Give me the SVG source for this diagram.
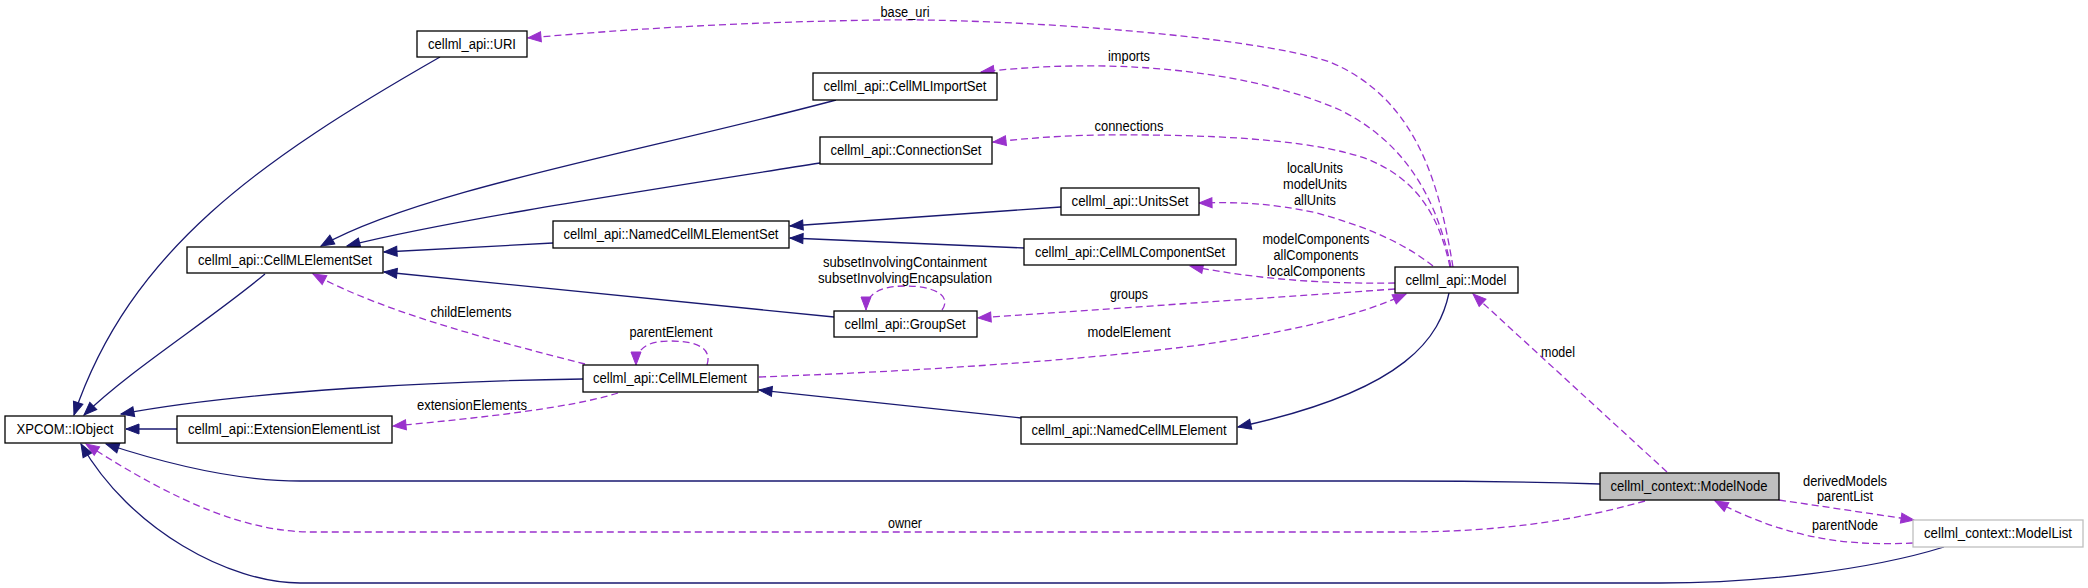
<svg xmlns="http://www.w3.org/2000/svg" width="2088" height="588" viewBox="0 0 2088 588">
<style>
.n rect{fill:#fff;stroke:#000;stroke-width:1.3}
.t{font-family:"Liberation Sans",Arial,Helvetica,sans-serif;font-size:14px;fill:#000}
.e{fill:none;stroke:#191970;stroke-width:1.3}
.u{fill:none;stroke:#9a32cd;stroke-width:1.3;stroke-dasharray:7,4}
</style>
<defs>
<marker id="ai" markerUnits="userSpaceOnUse" markerWidth="14" markerHeight="11" refX="13" refY="5" orient="auto" overflow="visible">
<path d="M0,0 L13,5 L0,10 z" fill="#191970" stroke="#191970" stroke-width="1"/>
</marker>
<marker id="au" markerUnits="userSpaceOnUse" markerWidth="14" markerHeight="11" refX="13" refY="5" orient="auto" overflow="visible">
<path d="M0,0 L13,5 L0,10 z" fill="#9a32cd" stroke="#9a32cd" stroke-width="1"/>
</marker>
</defs>
<rect width="2088" height="588" fill="#fff"/>
<g id="connectors">
<path class="e" marker-end="url(#ai)" d="M440,57 C260,160 130,250 74,415"/>
<path class="e" marker-end="url(#ai)" d="M265,274 C210,320 130,370 84,415"/>
<path class="e" marker-end="url(#ai)" d="M836,100 C650,150 420,190 321,246"/>
<path class="e" marker-end="url(#ai)" d="M820,163 C650,190 450,220 347,246"/>
<path class="e" marker-end="url(#ai)" d="M553,243 L384,252"/>
<path class="e" marker-end="url(#ai)" d="M834,317 L384,272"/>
<path class="e" marker-end="url(#ai)" d="M1061,207 L790,226"/>
<path class="e" marker-end="url(#ai)" d="M1024,248 L790,238"/>
<path class="e" marker-end="url(#ai)" d="M583,379 C450,381 250,390 121,414"/>
<path class="e" marker-end="url(#ai)" d="M177,429 L126,429"/>
<path class="e" marker-end="url(#ai)" d="M1021,418 L759,390"/>
<path class="e" marker-end="url(#ai)" d="M1449,293 C1440,335 1410,390 1238,427"/>
<path class="e" marker-end="url(#ai)" d="M1600,484 C1500,481 1450,481 1400,481 L300,481 C240,481 170,465 106,444"/>
<path class="e" marker-end="url(#ai)" d="M1944,547 C1870,570 1760,583 1660,583 L300,583 C230,583 130,530 81,444"/>
<path class="u" marker-end="url(#au)" d="M1453,267 C1440,190 1420,100 1330,62 C1250,35 1000,18 880,20 C750,22 640,28 528,38"/>
<path class="u" marker-end="url(#au)" d="M1451,267 C1435,190 1400,140 1340,110 C1260,75 1130,55 981,72"/>
<path class="u" marker-end="url(#au)" d="M1450,267 C1440,220 1420,180 1367,159 C1320,142 1240,136 1150,135 C1080,134 1040,137 993,142"/>
<path class="u" marker-end="url(#au)" d="M1433,266 C1400,240 1360,225 1317,213 C1270,203 1240,202 1199,203"/>
<path class="u" marker-end="url(#au)" d="M1395,283 C1330,284 1260,280 1190,266"/>
<path class="u" marker-end="url(#au)" d="M1395,289 L978,318"/>
<path class="u" marker-end="url(#au)" d="M759,377 C950,370 1100,358 1200,345 C1300,330 1360,315 1406,294"/>
<path class="u" marker-end="url(#au)" d="M585,364 C500,342 390,315 313,274"/>
<path class="u" marker-end="url(#au)" d="M618,393 C570,408 480,418 393,426"/>
<path class="u" marker-end="url(#au)" d="M707,365 C712,350 700,341 670,341 C648,341 636,348 636,365"/>
<path class="u" marker-end="url(#au)" d="M942,310 C952,296 935,286 905,286 C880,286 866,294 866,310"/>
<path class="u" marker-end="url(#au)" d="M1667,472 L1473,294"/>
<path class="u" marker-end="url(#au)" d="M1645,501 C1560,525 1480,532 1400,532 L312,532 C250,532 180,505 86,444"/>
<path class="u" marker-end="url(#au)" d="M1779,500 L1914,520"/>
<path class="u" marker-end="url(#au)" d="M1913,543 C1850,546 1790,540 1715,501"/>
<text class="t" x="905" y="17" text-anchor="middle" textLength="49" lengthAdjust="spacingAndGlyphs">base_uri</text>
<text class="t" x="1129" y="61" text-anchor="middle" textLength="42" lengthAdjust="spacingAndGlyphs">imports</text>
<text class="t" x="1129" y="131" text-anchor="middle" textLength="69" lengthAdjust="spacingAndGlyphs">connections</text>
<text class="t" x="1315" y="173" text-anchor="middle" textLength="56" lengthAdjust="spacingAndGlyphs">localUnits</text>
<text class="t" x="1315" y="189" text-anchor="middle" textLength="64" lengthAdjust="spacingAndGlyphs">modelUnits</text>
<text class="t" x="1315" y="205" text-anchor="middle" textLength="42" lengthAdjust="spacingAndGlyphs">allUnits</text>
<text class="t" x="1316" y="244" text-anchor="middle" textLength="107" lengthAdjust="spacingAndGlyphs">modelComponents</text>
<text class="t" x="1316" y="260" text-anchor="middle" textLength="85" lengthAdjust="spacingAndGlyphs">allComponents</text>
<text class="t" x="1316" y="276" text-anchor="middle" textLength="98" lengthAdjust="spacingAndGlyphs">localComponents</text>
<text class="t" x="1129" y="299" text-anchor="middle" textLength="38" lengthAdjust="spacingAndGlyphs">groups</text>
<text class="t" x="1129" y="337" text-anchor="middle" textLength="83" lengthAdjust="spacingAndGlyphs">modelElement</text>
<text class="t" x="905" y="267" text-anchor="middle" textLength="164" lengthAdjust="spacingAndGlyphs">subsetInvolvingContainment</text>
<text class="t" x="905" y="283" text-anchor="middle" textLength="174" lengthAdjust="spacingAndGlyphs">subsetInvolvingEncapsulation</text>
<text class="t" x="671" y="337" text-anchor="middle" textLength="83" lengthAdjust="spacingAndGlyphs">parentElement</text>
<text class="t" x="471" y="317" text-anchor="middle" textLength="81" lengthAdjust="spacingAndGlyphs">childElements</text>
<text class="t" x="472" y="410" text-anchor="middle" textLength="110" lengthAdjust="spacingAndGlyphs">extensionElements</text>
<text class="t" x="905" y="528" text-anchor="middle" textLength="34" lengthAdjust="spacingAndGlyphs">owner</text>
<text class="t" x="1558" y="357" text-anchor="middle" textLength="34" lengthAdjust="spacingAndGlyphs">model</text>
<text class="t" x="1845" y="486" text-anchor="middle" textLength="84" lengthAdjust="spacingAndGlyphs">derivedModels</text>
<text class="t" x="1845" y="501" text-anchor="middle" textLength="56" lengthAdjust="spacingAndGlyphs">parentList</text>
<text class="t" x="1845" y="530" text-anchor="middle" textLength="66" lengthAdjust="spacingAndGlyphs">parentNode</text>
</g>
<g id="n-uri" class="n"><rect x="417" y="31" width="110" height="26"/><text class="t" x="472" y="49" text-anchor="middle" textLength="88" lengthAdjust="spacingAndGlyphs">cellml_api::URI</text></g>
<g id="n-importset" class="n"><rect x="813" y="73" width="184" height="27"/><text class="t" x="905" y="91" text-anchor="middle" textLength="163" lengthAdjust="spacingAndGlyphs">cellml_api::CellMLImportSet</text></g>
<g id="n-connectionset" class="n"><rect x="820" y="137" width="172" height="27"/><text class="t" x="906" y="155" text-anchor="middle" textLength="151" lengthAdjust="spacingAndGlyphs">cellml_api::ConnectionSet</text></g>
<g id="n-unitsset" class="n"><rect x="1061" y="188" width="138" height="27"/><text class="t" x="1130" y="206" text-anchor="middle" textLength="117" lengthAdjust="spacingAndGlyphs">cellml_api::UnitsSet</text></g>
<g id="n-namedelementset" class="n"><rect x="553" y="221" width="236" height="27"/><text class="t" x="671" y="239" text-anchor="middle" textLength="215" lengthAdjust="spacingAndGlyphs">cellml_api::NamedCellMLElementSet</text></g>
<g id="n-componentset" class="n"><rect x="1024" y="239" width="212" height="26"/><text class="t" x="1130" y="257" text-anchor="middle" textLength="190" lengthAdjust="spacingAndGlyphs">cellml_api::CellMLComponentSet</text></g>
<g id="n-elementset" class="n"><rect x="187" y="247" width="196" height="26"/><text class="t" x="285" y="265" text-anchor="middle" textLength="174" lengthAdjust="spacingAndGlyphs">cellml_api::CellMLElementSet</text></g>
<g id="n-model" class="n"><rect x="1395" y="267" width="123" height="26"/><text class="t" x="1456" y="285" text-anchor="middle" textLength="101" lengthAdjust="spacingAndGlyphs">cellml_api::Model</text></g>
<g id="n-groupset" class="n"><rect x="834" y="311" width="143" height="26"/><text class="t" x="905" y="329" text-anchor="middle" textLength="121" lengthAdjust="spacingAndGlyphs">cellml_api::GroupSet</text></g>
<g id="n-element" class="n"><rect x="583" y="365" width="175" height="27"/><text class="t" x="670" y="383" text-anchor="middle" textLength="154" lengthAdjust="spacingAndGlyphs">cellml_api::CellMLElement</text></g>
<g id="n-iobject" class="n"><rect x="5" y="416" width="120" height="27"/><text class="t" x="65" y="434" text-anchor="middle" textLength="97" lengthAdjust="spacingAndGlyphs">XPCOM::IObject</text></g>
<g id="n-extlist" class="n"><rect x="177" y="416" width="215" height="27"/><text class="t" x="284" y="434" text-anchor="middle" textLength="192" lengthAdjust="spacingAndGlyphs">cellml_api::ExtensionElementList</text></g>
<g id="n-namedelement" class="n"><rect x="1021" y="417" width="216" height="27"/><text class="t" x="1129" y="435" text-anchor="middle" textLength="195" lengthAdjust="spacingAndGlyphs">cellml_api::NamedCellMLElement</text></g>
<g id="n-modelnode" class="n"><rect x="1600" y="473" width="179" height="27" style="fill:#bfbfbf"/><text class="t" x="1689" y="491" text-anchor="middle" textLength="157" lengthAdjust="spacingAndGlyphs">cellml_context::ModelNode</text></g>
<g id="n-modellist" class="n"><rect x="1913" y="520" width="170" height="27" style="stroke:#bfbfbf"/><text class="t" x="1998" y="538" text-anchor="middle" textLength="148" lengthAdjust="spacingAndGlyphs">cellml_context::ModelList</text></g>
</svg>
